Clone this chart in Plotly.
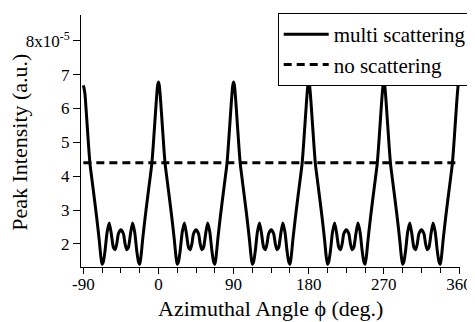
import plotly.graph_objects as go

# Azimuthal angle (deg.)
phi = [
    -90, -89, -88, -87, -86, -85, -84, -83, -82, -80, -77, -74, -71, -69, -67.5, -66, -64, -61.5,
    -59, -56.5, -54, -52, -50, -48, -45, -42, -40, -38, -36, -33.5, -31, -28.5, -26, -24, -22.5, -21,
    -19, -16, -13, -10, -8, -7, -6, -5, -4, -3, -2, -1,
    0, 1, 2, 3, 4, 5, 6, 7, 8, 10, 13, 16, 19, 21, 22.5, 24, 26, 28.5,
    31, 33.5, 36, 38, 40, 42, 45, 48, 50, 52, 54, 56.5, 59, 61.5, 64, 66, 67.5, 69,
    71, 74, 77, 80, 82, 83, 84, 85, 86, 87, 88, 89,
    90, 91, 92, 93, 94, 95, 96, 97, 98, 100, 103, 106, 109, 111, 112.5, 114, 116, 118.5,
    121, 123.5, 126, 128, 130, 132, 135, 138, 140, 142, 144, 146.5, 149, 151.5, 154, 156, 157.5, 159,
    161, 164, 167, 170, 172, 173, 174, 175, 176, 177, 178, 179,
    180, 181, 182, 183, 184, 185, 186, 187, 188, 190, 193, 196, 199, 201, 202.5, 204, 206, 208.5,
    211, 213.5, 216, 218, 220, 222, 225, 228, 230, 232, 234, 236.5, 239, 241.5, 244, 246, 247.5, 249,
    251, 254, 257, 260, 262, 263, 264, 265, 266, 267, 268, 269,
    270, 271, 272, 273, 274, 275, 276, 277, 278, 280, 283, 286, 289, 291, 292.5, 294, 296, 298.5,
    301, 303.5, 306, 308, 310, 312, 315, 318, 320, 322, 324, 326.5, 329, 331.5, 334, 336, 337.5, 339,
    341, 344, 347, 350, 352, 353, 354, 355, 356, 357, 358, 359,
    360,
]

# Peak intensity, multi scattering (units of 1e-5)
multi = [
    6.68, 6.58, 6.42, 6.08, 5.72, 5.36, 5.0, 4.66, 4.36, 3.96, 3.38, 2.78, 2.12, 1.62, 1.40, 1.48, 1.8, 2.35,
    2.62, 2.3, 1.9, 1.83, 2.0, 2.3, 2.42, 2.3, 2.0, 1.83, 1.9, 2.3, 2.62, 2.35, 1.8, 1.48, 1.40, 1.62,
    2.12, 2.78, 3.38, 3.96, 4.36, 4.66, 5.0, 5.36, 5.72, 6.08, 6.42, 6.68,
    6.78, 6.68, 6.42, 6.08, 5.72, 5.36, 5.0, 4.66, 4.36, 3.96, 3.38, 2.78, 2.12, 1.62, 1.40, 1.48, 1.8, 2.35,
    2.62, 2.3, 1.9, 1.83, 2.0, 2.3, 2.42, 2.3, 2.0, 1.83, 1.9, 2.3, 2.62, 2.35, 1.8, 1.48, 1.40, 1.62,
    2.12, 2.78, 3.38, 3.96, 4.36, 4.66, 5.0, 5.36, 5.72, 6.08, 6.42, 6.68,
    6.78, 6.68, 6.42, 6.08, 5.72, 5.36, 5.0, 4.66, 4.36, 3.96, 3.38, 2.78, 2.12, 1.62, 1.40, 1.48, 1.8, 2.35,
    2.62, 2.3, 1.9, 1.83, 2.0, 2.3, 2.42, 2.3, 2.0, 1.83, 1.9, 2.3, 2.62, 2.35, 1.8, 1.48, 1.40, 1.62,
    2.12, 2.78, 3.38, 3.96, 4.36, 4.66, 5.0, 5.36, 5.72, 6.08, 6.42, 6.68,
    6.78, 6.68, 6.42, 6.08, 5.72, 5.36, 5.0, 4.66, 4.36, 3.96, 3.38, 2.78, 2.12, 1.62, 1.40, 1.48, 1.8, 2.35,
    2.62, 2.3, 1.9, 1.83, 2.0, 2.3, 2.42, 2.3, 2.0, 1.83, 1.9, 2.3, 2.62, 2.35, 1.8, 1.48, 1.40, 1.62,
    2.12, 2.78, 3.38, 3.96, 4.36, 4.66, 5.0, 5.36, 5.72, 6.08, 6.42, 6.68,
    6.78, 6.68, 6.42, 6.08, 5.72, 5.36, 5.0, 4.66, 4.36, 3.96, 3.38, 2.78, 2.12, 1.62, 1.40, 1.48, 1.8, 2.35,
    2.62, 2.3, 1.9, 1.83, 2.0, 2.3, 2.42, 2.3, 2.0, 1.83, 1.9, 2.3, 2.62, 2.35, 1.8, 1.48, 1.40, 1.62,
    2.12, 2.78, 3.38, 3.96, 4.36, 4.66, 5.0, 5.36, 5.72, 6.08, 6.42, 6.68,
    6.78,
]

# No scattering (constant level)
no_phi = [-90, 360]
no_scatter = [4.4, 4.4]

x_ticks = [-90, 0, 90, 180, 270, 360]
x_ticklabels = ["-90", "0", "90", "180", "270", "360"]
y_ticks = [2, 3, 4, 5, 6, 7, 8]
y_ticklabels = ["2", "3", "4", "5", "6", "7", "8x10<sup>-5</sup>"]

x_title = "Azimuthal Angle ϕ (deg.)"
y_title = "Peak Intensity (a.u.)"

FONT = "Liberation Serif"

fig = go.Figure()
fig.add_trace(go.Scatter(
    x=phi, y=multi, mode="lines", name="multi scattering",
    line=dict(color="black", width=3, shape="spline", smoothing=0.7),
))
fig.add_trace(go.Scatter(
    x=no_phi, y=no_scatter, mode="lines", name="no scattering",
    line=dict(color="black", width=3, dash="8px,5px"),
))

# the page body has an 8px default margin; the figure is sized so that the
# plot area lands where the reference has it inside the 475x322 window
fig.update_layout(
    width=467, height=314,
    margin=dict(l=73, r=15, t=7, b=55, autoexpand=False),
    paper_bgcolor="white", plot_bgcolor="white",
    font=dict(family=FONT, size=17, color="black"),
    showlegend=True,
    legend=dict(
        x=0.519, y=1.008, xanchor="left", yanchor="top",
        bgcolor="white", bordercolor="black", borderwidth=1,
        font=dict(family=FONT, size=21, color="black"),
        tracegroupgap=0, itemwidth=45,
    ),
    annotations=[
        dict(text=x_title, xref="paper", yref="paper", x=0.5, y=-0.163,
             xanchor="center", yanchor="middle", showarrow=False,
             font=dict(family=FONT, size=22, color="black")),
        dict(text=y_title, xref="paper", yref="paper", x=-0.161, y=0.497,
             xanchor="center", yanchor="middle", showarrow=False, textangle=-90,
             font=dict(family=FONT, size=22, color="black")),
    ],
)
fig.update_xaxes(
    range=[-92.8, 361.2], tickvals=x_ticks, ticktext=x_ticklabels, automargin=False,
    showgrid=False, zeroline=False, showline=True, linecolor="black", linewidth=1,
    ticks="outside", ticklen=6, tickcolor="black", tickwidth=1, ticklabelstandoff=-4,
    minor=dict(dtick=22.5, tick0=0, ticks="outside", ticklen=5, tickcolor="black", showgrid=False),
    tickfont=dict(family=FONT, size=17),
)
fig.update_yaxes(
    range=[1.32, 8.76], tickvals=y_ticks, ticktext=y_ticklabels, automargin=False,
    showgrid=False, zeroline=False, showline=True, linecolor="black", linewidth=1,
    ticks="outside", ticklen=7, tickcolor="black", tickwidth=1,
    tickfont=dict(family=FONT, size=17),
)

fig.write_html("out.html")
